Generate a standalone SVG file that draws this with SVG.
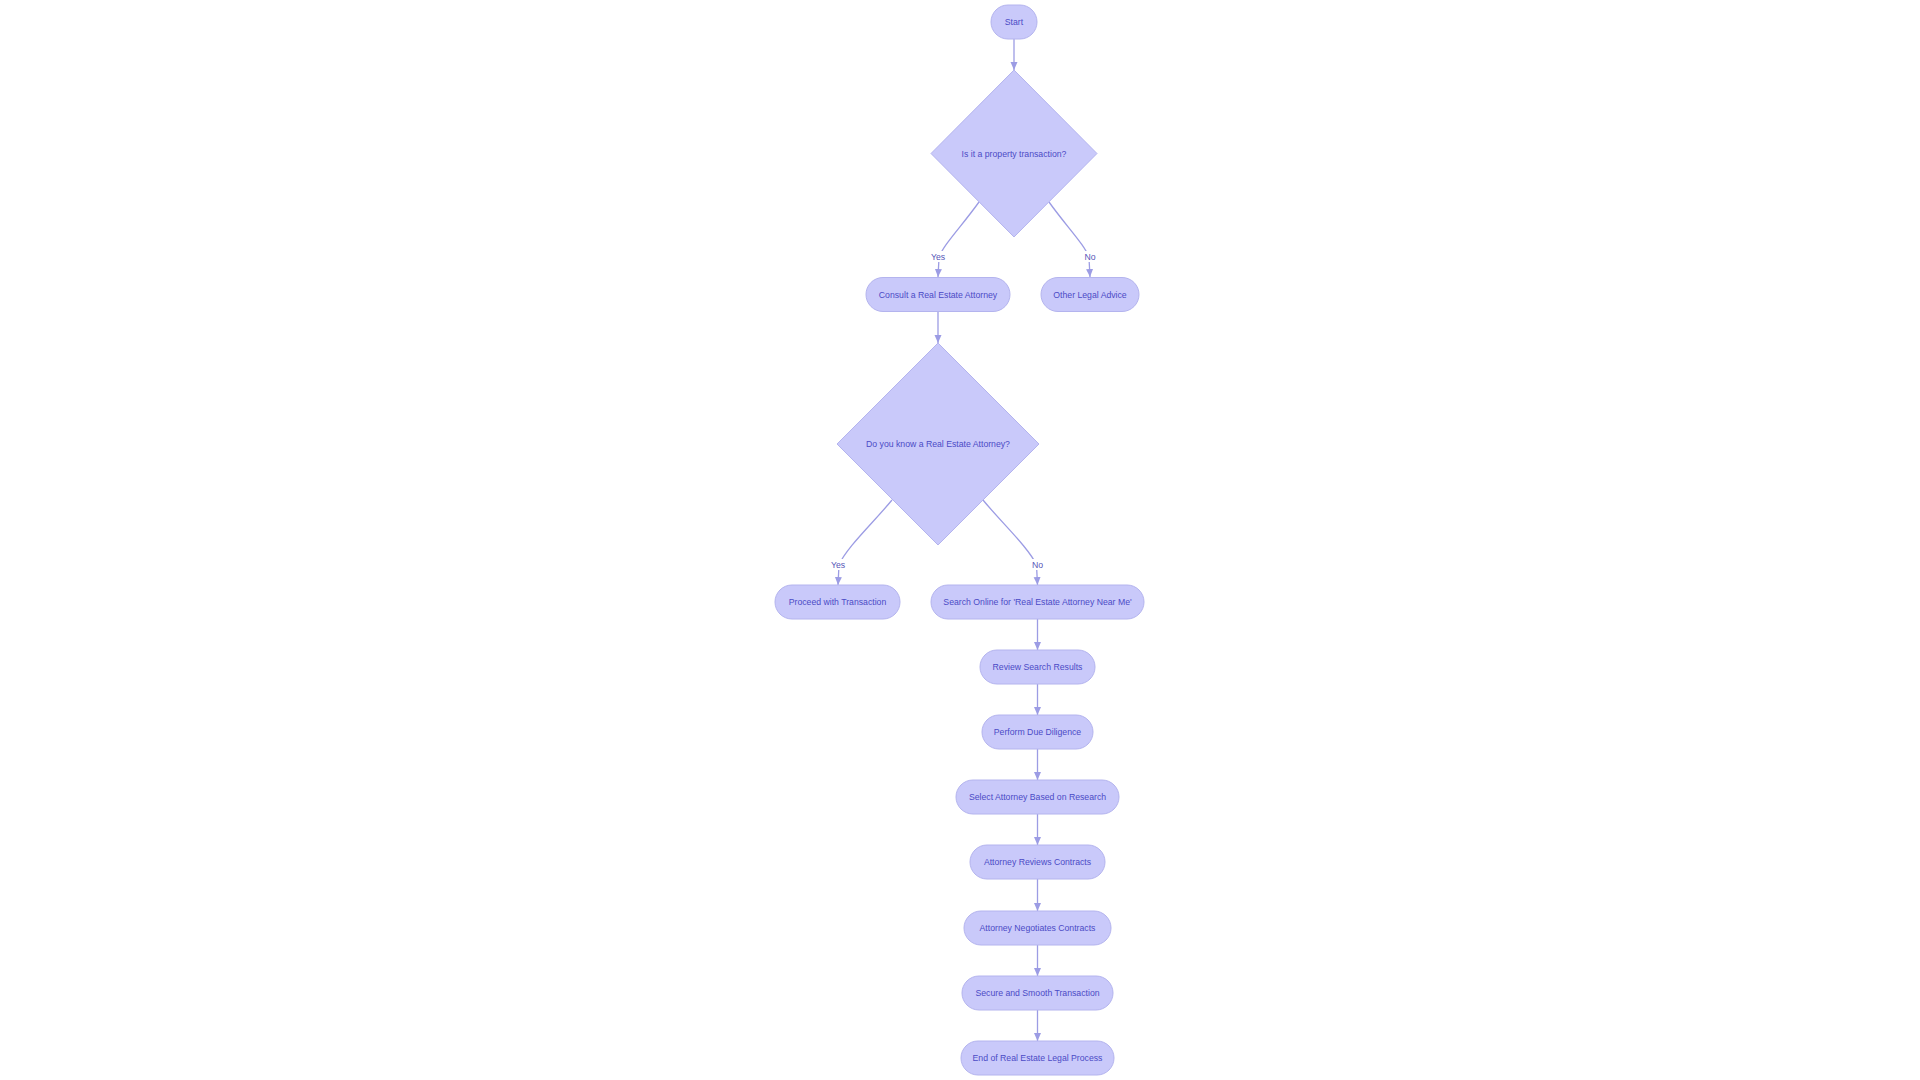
<svg xmlns="http://www.w3.org/2000/svg" width="1920" height="1080" viewBox="0 0 1920 1080">
<style>
.node rect, .node polygon { fill: #C9C9FA; stroke: #B4B4EE; stroke-width: 1; }
.node text { font-family: "Liberation Sans", Arial, sans-serif; font-size: 8.7px; fill: #4B4BC6; text-anchor: middle; }
.edge { fill: none; stroke: #9C9CE4; stroke-width: 1.3; marker-end: url(#arrow); }
.lbl rect { fill: #FFFFFF; }
.lbl text { font-family: "Liberation Sans", Arial, sans-serif; font-size: 8.7px; fill: #5656B8; text-anchor: middle; }
</style>
<defs>
<marker id="arrow" markerUnits="userSpaceOnUse" markerWidth="8" markerHeight="8" refX="8" refY="3.5" orient="auto">
<path d="M0,0 L8,3.5 L0,7 z" fill="#9C9CE4"/>
</marker>
</defs>
<rect width="1920" height="1080" fill="#FFFFFF"/>
<g id="connectors">
<path class="edge" d="M1014,39 L1014,70"/>
<path class="edge" d="M979,202 C962,226 942,246 939,258 L938,277"/>
<path class="edge" d="M1049,202 C1066,226 1086,246 1089,258 L1090,277"/>
<path class="edge" d="M938,312 L938,343"/>
<path class="edge" d="M892,500 C874,522 846,548 839,565 L838,585"/>
<path class="edge" d="M983,500 C1001,522 1029,548 1036.5,565 L1037.5,585"/>
<path class="edge" d="M1037.5,619 L1037.5,650"/>
<path class="edge" d="M1037.5,684 L1037.5,715"/>
<path class="edge" d="M1037.5,749 L1037.5,780"/>
<path class="edge" d="M1037.5,814 L1037.5,845"/>
<path class="edge" d="M1037.5,879 L1037.5,911"/>
<path class="edge" d="M1037.5,945 L1037.5,976"/>
<path class="edge" d="M1037.5,1010 L1037.5,1041"/>
<g class="lbl"><rect x="929" y="251" width="18" height="11"/><text x="938" y="260">Yes</text></g>
<g class="lbl"><rect x="1083" y="251" width="14" height="11"/><text x="1090" y="260">No</text></g>
<g class="lbl"><rect x="829" y="559" width="18" height="11"/><text x="838" y="568">Yes</text></g>
<g class="lbl"><rect x="1030" y="559" width="14" height="11"/><text x="1037.5" y="568">No</text></g>
</g>
<g id="start" class="node"><rect x="991" y="5" width="46" height="34" rx="17"/><text x="1014" y="25">Start</text></g>
<g id="q1" class="node"><polygon points="1014,70 1097,153.5 1014,237 931,153.5"/><text x="1014" y="157">Is it a property transaction?</text></g>
<g id="consult" class="node"><rect x="866" y="277.5" width="144" height="34" rx="17"/><text x="938" y="297.5">Consult a Real Estate Attorney</text></g>
<g id="other" class="node"><rect x="1041" y="277.5" width="98" height="34" rx="17"/><text x="1090" y="297.5">Other Legal Advice</text></g>
<g id="q2" class="node"><polygon points="938,343 1039,444 938,545 837,444"/><text x="938" y="447">Do you know a Real Estate Attorney?</text></g>
<g id="proceed" class="node"><rect x="775" y="585" width="125" height="34" rx="17"/><text x="837.5" y="605">Proceed with Transaction</text></g>
<g id="search" class="node"><rect x="931" y="585" width="213" height="34" rx="17"/><text x="1037.5" y="605">Search Online for 'Real Estate Attorney Near Me'</text></g>
<g id="review" class="node"><rect x="980" y="650" width="115" height="34" rx="17"/><text x="1037.5" y="670">Review Search Results</text></g>
<g id="diligence" class="node"><rect x="982" y="715" width="111" height="34" rx="17"/><text x="1037.5" y="735">Perform Due Diligence</text></g>
<g id="select" class="node"><rect x="956" y="780" width="163" height="34" rx="17"/><text x="1037.5" y="800">Select Attorney Based on Research</text></g>
<g id="reviews" class="node"><rect x="970" y="845" width="135" height="34" rx="17"/><text x="1037.5" y="865">Attorney Reviews Contracts</text></g>
<g id="negotiates" class="node"><rect x="964" y="911" width="147" height="34" rx="17"/><text x="1037.5" y="931">Attorney Negotiates Contracts</text></g>
<g id="secure" class="node"><rect x="962" y="976" width="151" height="34" rx="17"/><text x="1037.5" y="996">Secure and Smooth Transaction</text></g>
<g id="end" class="node"><rect x="961" y="1041" width="153" height="34" rx="17"/><text x="1037.5" y="1061">End of Real Estate Legal Process</text></g>
</svg>
